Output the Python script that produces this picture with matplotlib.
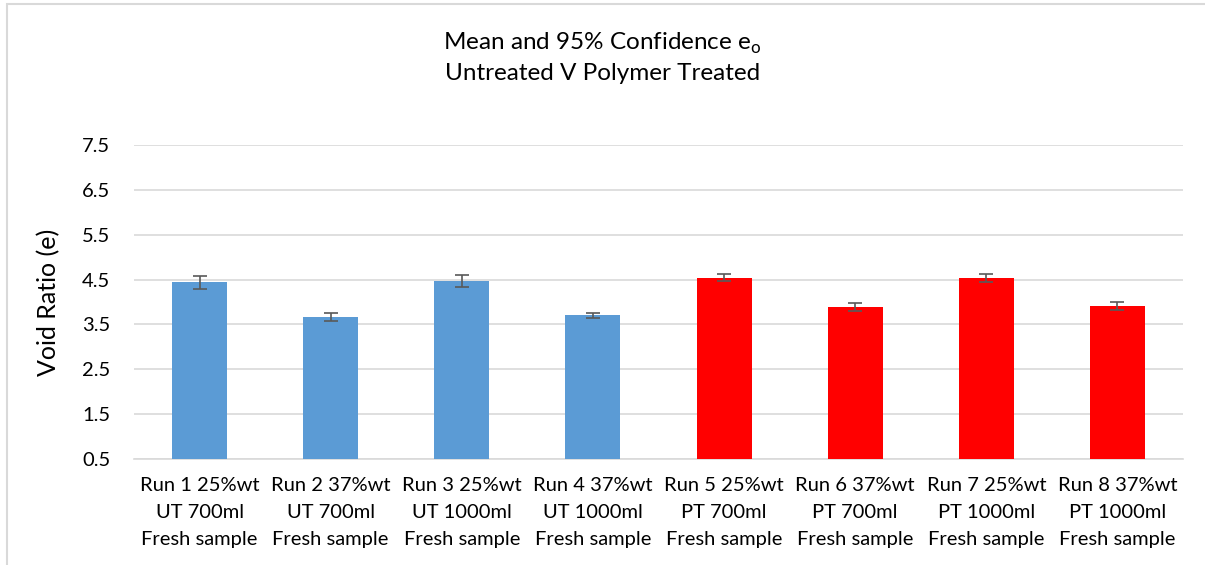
import numpy as np
import matplotlib.pyplot as plt
from matplotlib.patches import Rectangle

# Veriler
labels = ["Run 1 25%wt\nUT 700ml\nFresh sample",
          "Run 2 37%wt\nUT 700ml\nFresh sample",
          "Run 3 25%wt\nUT 1000ml\nFresh sample",
          "Run 4 37%wt\nUT 1000ml\nFresh sample",
          "Run 5 25%wt\nPT 700ml\nFresh sample",
          "Run 6 37%wt\nPT 700ml\nFresh sample",
          "Run 7 25%wt\nPT 1000ml\nFresh sample",
          "Run 8 37%wt\nPT 1000ml\nFresh sample"]
means = [4.44, 3.66, 4.47, 3.70, 4.54, 3.89, 4.54, 3.91]
ci95 = [0.15, 0.09, 0.135, 0.05, 0.075, 0.085, 0.095, 0.085]
colors = ["#5B9BD5"] * 4 + ["#FF0000"] * 4
yticks = [0.5, 1.5, 2.5, 3.5, 4.5, 5.5, 6.5, 7.5]

plt.rcParams['font.family'] = ['Lato', 'DejaVu Sans']

fig = plt.figure(figsize=(12.05, 5.65), dpi=100)
ax = fig.add_axes([134 / 1205, 1 - 459 / 565, (1183 - 134) / 1205, (459 - 145) / 565])

x = np.arange(len(means))
ax.bar(x, means, width=0.42, color=colors, zorder=3,
       yerr=ci95, error_kw=dict(ecolor="#595959", elinewidth=1.2, capsize=5, capthick=1.2))

ax.set_xlim(-0.5, len(means) - 0.5)
ax.set_ylim(0.5, 7.5)
ax.set_yticks(yticks)
ax.set_yticklabels([f"{t:.1f}" for t in yticks], fontsize=14.5)
ax.set_xticks(x)
ax.set_xticklabels(labels, fontsize=14.5, linespacing=1.72)
ax.tick_params(length=0)
ax.tick_params(axis='y', pad=17)
ax.tick_params(axis='x', pad=13)
ax.grid(axis='y', color="#D9D9D9", linewidth=1.2, zorder=0)
for s in ["top", "right", "left"]:
    ax.spines[s].set_visible(False)
ax.spines["bottom"].set_color("#D9D9D9")
ax.spines["bottom"].set_linewidth(1.2)
ax.set_ylabel("Void Ratio (e)", fontsize=18, labelpad=16)

fig.text(0.5, 1 - 43 / 565, "Mean and 95% Confidence e$_\\mathregular{o}$", ha="center", va="center", fontsize=17.5)
fig.text(0.5, 1 - 74 / 565, "Untreated V Polymer Treated", ha="center", va="center", fontsize=17.5)

# Grafik çerçevesi
fig.patches.append(Rectangle((7 / 1205, -0.1), 1.2, 1 - 4 / 565 + 0.1, transform=fig.transFigure,
                             fill=False, edgecolor="#D9D9D9", linewidth=1.5))

fig.savefig("out.png", dpi=100)
